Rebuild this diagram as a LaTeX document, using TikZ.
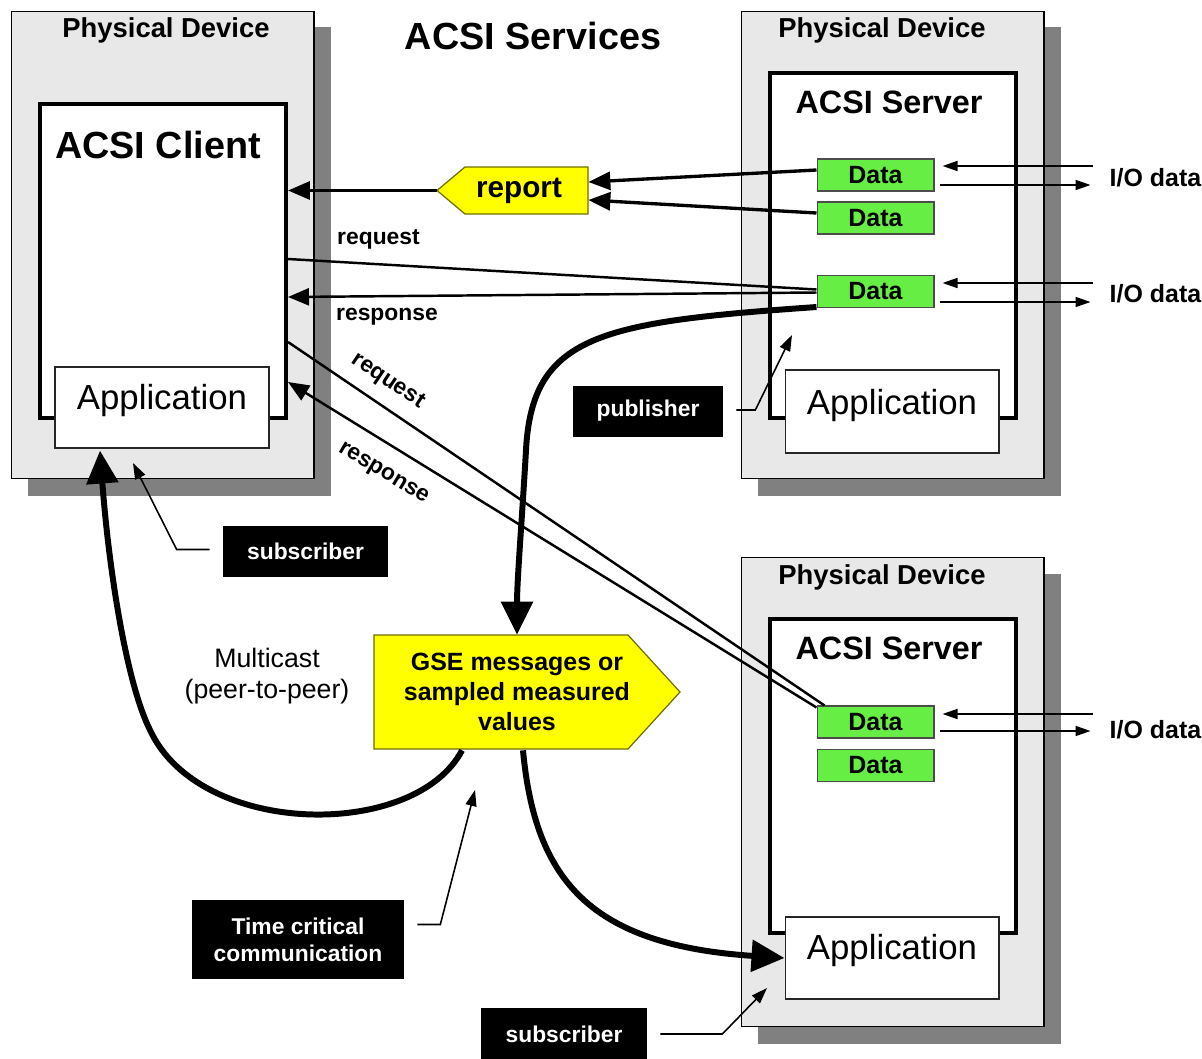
\documentclass[tikz,border=0pt]{standalone}
\usepackage{fontspec}
\setmainfont{Liberation Sans}
\usetikzlibrary{arrows.meta,calc}
\definecolor{lightgr}{RGB}{232,232,232}
\definecolor{shadowgr}{RGB}{128,128,128}
\definecolor{datagreen}{RGB}{102,238,68}
\definecolor{gseyellow}{RGB}{255,255,0}
\definecolor{oliveline}{RGB}{110,110,0}
\begin{document}
\begin{tikzpicture}[x=0.02cm,y=-0.02cm,
  pdev/.style={draw=black, line width=0.6pt, fill=lightgr, inner sep=0pt, minimum width=6.06cm},
  acsibox/.style={draw=black, line width=2.3pt, fill=white, inner sep=0pt, minimum width=4.92cm},
  appbox/.style={draw=black!85, line width=0.6pt, fill=white, inner sep=0pt, minimum width=4.28cm},
  databox/.style={draw=black!70, line width=0.6pt, fill=datagreen, inner sep=0pt, minimum width=2.34cm, minimum height=0.64cm, font=\fontsize{14.2pt}{17pt}\selectfont\bfseries},
  tagbox/.style={fill=black, text=white, inner sep=0pt, align=center, font=\fontsize{13pt}{15.3pt}\selectfont\bfseries},
  pdlabel/.style={font=\fontsize{15.6pt}{18pt}\selectfont\bfseries},
  biglabel/.style={font=\fontsize{21.5pt}{25pt}\selectfont\bfseries},
  srvlabel/.style={font=\fontsize{18.4pt}{22pt}\selectfont\bfseries},
  applabel/.style={font=\fontsize{19.8pt}{23pt}\selectfont},
  iolabel/.style={anchor=west, font=\fontsize{14.2pt}{17pt}\selectfont\bfseries},
  msglabel/.style={font=\fontsize{13pt}{15pt}\selectfont\bfseries},
  thinarr/.style={line width=0.9pt, -{Triangle[length=0.3cm,width=0.2cm]}},
  ptrarr/.style={line width=0.9pt, -{Triangle[length=0.32cm,width=0.22cm]}},
  medline/.style={line width=1.4pt},
  medarr/.style={line width=1.4pt, -{Triangle[length=0.42cm,width=0.34cm]}},
  reparr/.style={line width=1.9pt, -{Triangle[length=0.44cm,width=0.36cm]}},
  bigarr/.style={line width=3.4pt, -{Triangle[length=0.66cm,width=0.62cm]}}
]
\useasboundingbox (0,0) rectangle (1202,1058);

% ---------- shadows ----------
\fill[shadowgr] (27.5,27) rectangle (330.5,496);
\fill[shadowgr] (757.5,27) rectangle (1060.5,496);
\fill[shadowgr] (757.5,574) rectangle (1060.5,1044);

% ---------- physical devices ----------
\node[pdev, minimum height=9.36cm] (pd1) at (162.5,245) {};
\node[pdev, minimum height=9.36cm] (pd2) at (892.5,245) {};
\node[pdev, minimum height=9.40cm] (pd3) at (892.5,792) {};

\node[pdlabel] (pd1t) at (166,30) {Physical Device};
\node[pdlabel] (pd2t) at (882,30) {Physical Device};
\node[pdlabel] (pd3t) at (882,577) {Physical Device};

\node[biglabel] (title) at (533,36) {ACSI Services};

% ---------- ACSI boxes ----------
\node[acsibox, minimum height=6.28cm] (client) at (163,261) {};
\node[acsibox, minimum height=6.90cm] (srv1) at (893,245.5) {};
\node[acsibox, minimum height=6.28cm] (srv2) at (893,776) {};

\node[biglabel] (clientt) at (158,145) {ACSI Client};
\node[srvlabel] (srv1t) at (889,102) {ACSI Server};
\node[srvlabel] (srv2t) at (889,648) {ACSI Server};

% ---------- applications ----------
\node[appbox, minimum height=1.62cm] (app1) at (162,407.5) {};
\node[appbox, minimum height=1.66cm] (app2) at (892,411.5) {};
\node[appbox, minimum height=1.64cm] (app3) at (892,958) {};
\node[applabel] (app1t) at (162,400) {Application};
\node[applabel] (app2t) at (892,405) {Application};
\node[applabel] (app3t) at (892,950) {Application};

% ---------- data ----------
\node[databox] (d1) at (875.5,175) {Data};
\node[databox] (d2) at (875.5,218) {Data};
\node[databox] (d3) at (875.5,291.5) {Data};
\node[databox] (b1) at (875.5,722) {Data};
\node[databox] (b2) at (875.5,765.5) {Data};

% ---------- I/O data ----------
\node[iolabel] (io1) at ($(d1.east)+(169,3)$) {I/O data};
\node[iolabel] (io2) at ($(d3.east)+(169,2)$) {I/O data};
\node[iolabel] (io3) at ($(b1.east)+(169,8)$) {I/O data};
\draw[thinarr] ($(d1.east)+(158,-9)$) -- ($(d1.east)+(8,-9)$);
\draw[thinarr] ($(d1.east)+(5,10)$) -- ($(d1.east)+(156,10)$);
\draw[thinarr] ($(d3.east)+(158,-8.5)$) -- ($(d3.east)+(8,-8.5)$);
\draw[thinarr] ($(d3.east)+(5,10.5)$) -- ($(d3.east)+(156,10.5)$);
\draw[thinarr] ($(b1.east)+(158,-8)$) -- ($(b1.east)+(8,-8)$);
\draw[thinarr] ($(b1.east)+(5,9)$) -- ($(b1.east)+(156,9)$);

% ---------- report ----------
\fill[gseyellow, draw=oliveline, line width=0.7pt]
  (437,190.5) -- (465,167) -- (588,167) -- (588,214) -- (465,214) -- cycle;
\node[minimum width=2.76cm, minimum height=0.94cm, inner sep=0pt,
      font=\fontsize{16.9pt}{20pt}\selectfont\bfseries] (report) at (519,190.5) {report};
\coordinate (reptip) at ($(report.west)+(-13,0)$);
\draw[reparr] ($(d1.west)+(0,-5)$) -- ($(report.east)+(0,-8.5)$);
\draw[reparr] ($(d2.west)+(0,-5)$) -- ($(report.east)+(0,9.5)$);
\draw[reparr] (reptip) -- (reptip -| client.east);

% ---------- request / response (top) ----------
\draw[medline] ($(client.east)+(0,-2)$) -- ($(d3.west)+(0,-2)$);
\draw[medarr] ($(d3.west)+(0,1)$) -- ($(client.east)+(0,36)$);
\node[msglabel, anchor=west] (req1) at (331,239) {request};
\node[msglabel, anchor=west] (resp1) at (330,317) {response};

% ---------- request / response (diagonal) ----------
\draw[medline] ($(client.east)+(0,81)$) -- ($(b1.north west)+(8,0)$);
\draw[medarr] ($(b1.north west)+(0,2)$) -- ($(client.east)+(0,121)$);
\node[msglabel, rotate=-34, inner sep=1pt] (req2) at (388,381) {request};
\node[msglabel, rotate=-31, inner sep=1pt] (resp2) at (383,474) {response};

% ---------- GSE ----------
\fill[gseyellow, draw=oliveline, line width=0.7pt]
  (374,635) -- (628,635) -- (680,692) -- (628,749) -- (374,749) -- cycle;
\node[minimum height=2.28cm, inner sep=0pt, align=center,
      font=\fontsize{14.2pt}{17pt}\selectfont\bfseries] (gse) at (517,692)
  {GSE messages or\\sampled measured\\values};

\draw[bigarr] ($(d3.south west)+(0,-1)$) .. controls (600,322) and (532,335) .. (526,450)
  .. controls (522,520) and (517,580) .. (gse.north);
\draw[bigarr] ($(gse.south)+(-55,1)$) .. controls (415,840) and (200,838) .. (150,730)
  .. controls (125,680) and (108,560) .. ($(app1.south)+(-62,2)$);
\draw[bigarr] ($(gse.south)+(6,1)$) .. controls (535,880) and (590,945) .. (app3.west);

\node[font=\fontsize{15.2pt}{18pt}\selectfont, align=center] (mc) at (267,676)
  {Multicast\\(peer-to-peer)};

% ---------- tags ----------
\node[tagbox, minimum width=3.0cm, minimum height=1.02cm] (pub) at (648,411) {publisher};
\coordinate (pubtip) at (792,335);
\draw[ptrarr] ($(pub.east)+(13,-1)$) -- ++(19,0) -- (pubtip);

\node[tagbox, minimum width=3.3cm, minimum height=1.02cm] (sub1) at (305.5,551.5) {subscriber};
\coordinate (sub1tip) at (133,463);
\draw[ptrarr] ($(sub1.west)+(-13,-2)$) -- ++(-33,0) -- (sub1tip);

\node[tagbox, minimum width=4.24cm, minimum height=1.58cm] (tc) at (298,939.5) {Time critical\\communication};
\coordinate (tctip) at (475,790);
\draw[ptrarr] ($(tc.east)+(13,-15)$) -- ++(23,0) -- (tctip);

\node[tagbox, minimum width=3.32cm, minimum height=1.04cm] (sub2) at (564,1034) {subscriber};
\coordinate (sub2tip) at (767,988);
\draw[ptrarr] ($(sub2.east)+(13,0)$) -- ++(62,0) -- (sub2tip);
\end{tikzpicture}
\end{document}
